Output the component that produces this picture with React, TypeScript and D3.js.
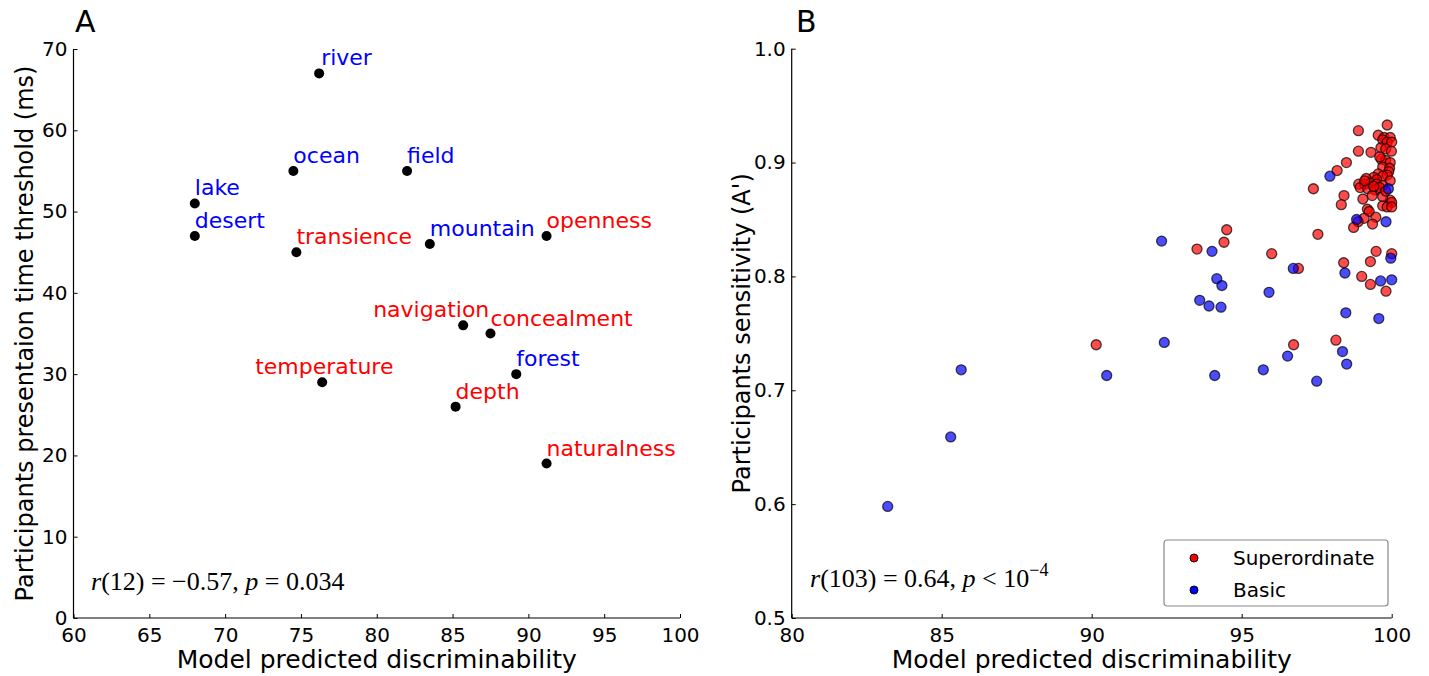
import React, { useEffect, useRef } from 'react';
import * as d3 from 'd3';

// Panel A: scene properties
const propNames = ['river', 'ocean', 'field', 'lake', 'desert', 'transience', 'mountain', 'openness',
  'navigation', 'concealment', 'forest', 'temperature', 'depth', 'naturalness'];
const propX = [76.2, 74.5, 82.0, 68.0, 68.0, 74.7, 83.5, 91.2, 85.7, 87.5, 89.2, 76.4, 85.2, 91.2];
const propY = [67, 55, 55, 51, 47, 45, 46, 47, 36, 35, 30, 29, 26, 19];
const propKind = ['basic', 'basic', 'basic', 'basic', 'basic', 'super', 'basic', 'super',
  'super', 'super', 'basic', 'super', 'super', 'super'];
// label offset in px (layout only)
const labelDx: Record<string, number> = { navigation: -90, temperature: -67, river: 2 };

const xTicksA = [60, 65, 70, 75, 80, 85, 90, 95, 100];
const yTicksA = [0, 10, 20, 30, 40, 50, 60, 70];

// Panel B: superordinate / basic categories
const superX = [99.85, 98.89, 99.55, 99.75, 99.95, 99.7, 99.85, 100.0, 99.64, 99.8, 99.99, 98.89, 99.31,
  99.65, 99.8, 99.95, 98.49, 99.7, 99.93, 98.18, 99.9, 99.55, 99.85, 99.7, 99.4, 99.15, 99.5, 99.95,
  98.9, 99.1, 99.3, 99.5, 99.7, 98.95, 99.2, 99.45, 99.6, 97.39, 98.41, 99.35, 99.04, 99.95, 100.0,
  99.7, 98.32, 99.7, 99.85, 100.0, 99.19, 99.25, 99.47, 99.08, 98.88, 98.73, 99.36, 97.54, 94.5,
  94.41, 93.51, 96.0, 99.48, 100.0, 98.4, 99.29, 96.89, 99.0, 99.29, 99.81, 96.73, 98.14, 90.15,
  99.6, 99.1, 99.8, 99.4];
const superY = [0.933, 0.928, 0.924, 0.922, 0.922, 0.92, 0.918, 0.918, 0.913, 0.912, 0.91, 0.91, 0.909,
  0.903, 0.902, 0.9, 0.9, 0.896, 0.895, 0.893, 0.892, 0.89, 0.889, 0.888, 0.887, 0.886, 0.885, 0.884,
  0.881, 0.881, 0.882, 0.881, 0.88, 0.878, 0.877, 0.876, 0.878, 0.877, 0.871, 0.871, 0.868, 0.867, 0.865,
  0.87, 0.863, 0.862, 0.861, 0.861, 0.859, 0.857, 0.852, 0.851, 0.848, 0.843, 0.846, 0.837, 0.841,
  0.83, 0.824, 0.82, 0.822, 0.82, 0.812, 0.813, 0.807, 0.8, 0.793, 0.787, 0.74, 0.744, 0.74,
  0.905, 0.884, 0.875, 0.879];
const basicX = [83.2, 85.3, 85.65, 90.5, 92.33, 92.42, 94.01, 94.17, 94.34, 93.6, 93.91, 94.31, 95.91,
  96.72, 96.53, 94.1, 95.72, 97.5, 98.36, 98.5, 97.94, 99.89, 98.83, 99.81, 99.97, 98.44, 99.63, 100.0,
  98.47, 99.57];
const basicY = [0.598, 0.659, 0.718, 0.713, 0.831, 0.742, 0.822, 0.798, 0.792, 0.779, 0.774, 0.773, 0.786,
  0.807, 0.73, 0.713, 0.718, 0.708, 0.734, 0.723, 0.888, 0.877, 0.85, 0.848, 0.816, 0.803, 0.796, 0.797,
  0.768, 0.763];

const xTicksB = [80, 85, 90, 95, 100];
const yTicksB = [0.5, 0.6, 0.7, 0.8, 0.9, 1.0];

const SANS = 'DejaVu Sans, sans-serif';
const SERIF = 'Liberation Serif, DejaVu Serif, serif';

const App: React.FC = () => {
  const svgRef = useRef<SVGSVGElement>(null);

  useEffect(() => {
    if (!svgRef.current) return;
    const svg = d3.select(svgRef.current);
    svg.selectAll('*').remove();

    const drawAxes = (g: d3.Selection<SVGGElement, unknown, null, undefined>,
      x: d3.ScaleLinear<number, number>, y: d3.ScaleLinear<number, number>,
      xt: number[], yt: number[], yfmt: (v: number) => string) => {
      const [x0, x1] = x.range();
      const [y0, y1] = y.range();
      const xa = g.append('g').attr('transform', `translate(0,${y0})`)
        .call(d3.axisBottom(x).tickValues(xt).tickSize(-4).tickPadding(6).tickFormat(d3.format('d')));
      const ya = g.append('g').attr('transform', `translate(${x0},0)`)
        .call(d3.axisLeft(y).tickValues(yt).tickSize(-4).tickPadding(6).tickFormat(yfmt as any));
      [xa, ya].forEach(a => {
        a.select('.domain').remove();
        a.selectAll('line').attr('stroke', '#000');
        a.selectAll('text').attr('font-family', SANS).attr('font-size', 20).attr('fill', '#000');
      });
      xa.selectAll('text').attr('dy', '0.9em');
      g.append('line').attr('x1', x0).attr('x2', x1).attr('y1', y0).attr('y2', y0)
        .attr('stroke', '#000').attr('stroke-width', 1.2);
      g.append('line').attr('x1', x0).attr('x2', x0).attr('y1', y0).attr('y2', y1)
        .attr('stroke', '#000').attr('stroke-width', 1.2);
    };

    // ---------- Panel A ----------
    const xA = d3.scaleLinear().domain([60, 100]).range([73.5, 680]);
    const yA = d3.scaleLinear().domain([0, 70]).range([618, 49]);
    const gA = svg.append('g');
    drawAxes(gA, xA, yA, xTicksA, yTicksA, d3.format('d'));

    propNames.forEach((name, i) => {
      const cx = xA(propX[i]);
      const cy = yA(propY[i]);
      gA.append('circle').attr('cx', cx).attr('cy', cy).attr('r', 5).attr('fill', '#000');
      gA.append('text')
        .attr('x', cx + (labelDx[name] ?? 0))
        .attr('y', cy - 8)
        .attr('font-family', SANS).attr('font-size', 22)
        .attr('fill', propKind[i] === 'basic' ? '#0000ff' : '#ff0000')
        .text(name);
    });

    gA.append('text').attr('x', 75).attr('y', 32).attr('font-family', SANS).attr('font-size', 30).text('A');
    gA.append('text').attr('x', (73.5 + 680) / 2).attr('y', 668).attr('text-anchor', 'middle')
      .attr('font-family', SANS).attr('font-size', 25).text('Model predicted discriminability');
    gA.append('text').attr('transform', `translate(33,${(618 + 49) / 2}) rotate(-90)`)
      .attr('text-anchor', 'middle').attr('font-family', SANS).attr('font-size', 24)
      .text('Participants presentaion time threshold (ms)');

    const statA = gA.append('text').attr('x', 91).attr('y', 590)
      .attr('font-family', SERIF).attr('font-size', 26);
    statA.append('tspan').attr('font-style', 'italic').text('r');
    statA.append('tspan').text('(12) = \u22120.57, ');
    statA.append('tspan').attr('font-style', 'italic').text('p');
    statA.append('tspan').text(' = 0.034');

    // ---------- Panel B ----------
    const xB = d3.scaleLinear().domain([80, 100]).range([791.7, 1391.7]);
    const yB = d3.scaleLinear().domain([0.5, 1.0]).range([618, 48.7]);
    const gB = svg.append('g');
    drawAxes(gB, xB, yB, xTicksB, yTicksB, d3.format('.1f'));

    const pts = gB.append('g');
    superX.forEach((v, i) => {
      pts.append('circle').attr('cx', xB(v)).attr('cy', yB(superY[i])).attr('r', 5)
        .attr('fill', 'rgba(255,0,0,0.7)').attr('stroke', 'rgba(0,0,0,0.7)').attr('stroke-width', 1.3);
    });
    basicX.forEach((v, i) => {
      pts.append('circle').attr('cx', xB(v)).attr('cy', yB(basicY[i])).attr('r', 5)
        .attr('fill', 'rgba(0,0,255,0.7)').attr('stroke', 'rgba(0,0,0,0.7)').attr('stroke-width', 1.3);
    });

    gB.append('text').attr('x', 796).attr('y', 32).attr('font-family', SANS).attr('font-size', 30).text('B');
    gB.append('text').attr('x', (791.7 + 1391.7) / 2).attr('y', 668).attr('text-anchor', 'middle')
      .attr('font-family', SANS).attr('font-size', 25).text('Model predicted discriminability');
    gB.append('text').attr('transform', `translate(750,${(618 + 48.7) / 2}) rotate(-90)`)
      .attr('text-anchor', 'middle').attr('font-family', SANS).attr('font-size', 24)
      .text("Participants sensitivity (A')");

    const statB = gB.append('text').attr('x', 810).attr('y', 587)
      .attr('font-family', SERIF).attr('font-size', 26);
    statB.append('tspan').attr('font-style', 'italic').text('r');
    statB.append('tspan').text('(103) = 0.64, ');
    statB.append('tspan').attr('font-style', 'italic').text('p');
    statB.append('tspan').text(' < 10');
    statB.append('tspan').attr('font-size', 18).attr('dy', -11).text('\u22124');

    // legend
    const lg = gB.append('g').attr('transform', 'translate(1164,540)');
    lg.append('rect').attr('width', 224).attr('height', 66).attr('rx', 3)
      .attr('fill', '#fff').attr('stroke', '#888').attr('stroke-width', 1.2);
    [['Superordinate', '#ff0000'], ['Basic', '#0000ff']].forEach(([lab, col], i) => {
      lg.append('circle').attr('cx', 30).attr('cy', 18 + i * 32).attr('r', 4)
        .attr('fill', col).attr('stroke', '#000').attr('stroke-width', 1);
      lg.append('text').attr('x', 69).attr('y', 25 + i * 32)
        .attr('font-family', SANS).attr('font-size', 20).text(lab);
    });
  }, []);

  return (
    <svg ref={svgRef} width={1429} height={676}
      style={{ position: 'absolute', left: 0, top: 0, background: '#fff' }} />
  );
};

export default App;
